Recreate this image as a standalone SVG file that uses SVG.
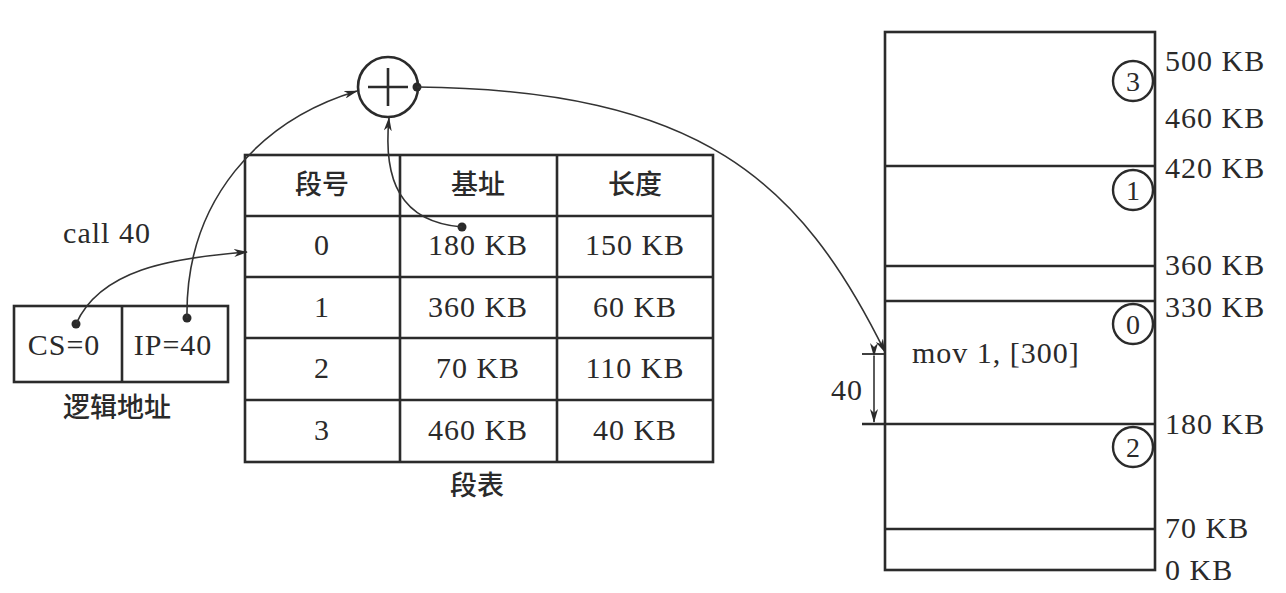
<svg xmlns="http://www.w3.org/2000/svg" width="1286" height="593" viewBox="0 0 1286 593">
<style>
.box{fill:none;stroke:#2b2b2b;stroke-width:2.6}
.ln{fill:none;stroke:#2b2b2b;stroke-width:2.6}
.cv{fill:none;stroke:#333;stroke-width:1.6}
.t{font-family:"Liberation Serif","DejaVu Serif",serif;font-size:30px;letter-spacing:1px;fill:#2a2a2a}
.tm{text-anchor:middle}
.cn{font-family:"Noto Sans CJK SC","Noto Sans",sans-serif;font-size:27px;font-weight:500;fill:#2a2a2a;text-anchor:middle}
.dot{fill:#2a2a2a}
.num{font-family:"Liberation Serif","DejaVu Serif",serif;font-size:28px;fill:#2a2a2a;text-anchor:middle}
</style>
<defs>
<marker id="arr" viewBox="0 0 14 8" refX="13" refY="4" markerWidth="14" markerHeight="8" markerUnits="userSpaceOnUse" orient="auto">
<path d="M0,0 L14,4 L0,8 L4,4 Z" fill="#2a2a2a"/>
</marker>
<marker id="arrs" viewBox="0 0 14 8" refX="1" refY="4" markerWidth="14" markerHeight="8" markerUnits="userSpaceOnUse" orient="auto-start-reverse">
<path d="M0,4 L14,0 L10,4 L14,8 Z" fill="#2a2a2a"/>
</marker>
</defs>
<rect width="1286" height="593" fill="#fff"/>

<g id="logical-address">
<rect class="box" x="14" y="306" width="214" height="76"/>
<line class="ln" x1="122" y1="306" x2="122" y2="382"/>
<text class="t tm" x="64" y="355">CS=0</text>
<text class="t tm" x="173" y="355">IP=40</text>
<text class="t tm" x="107" y="243">call 40</text>
<text class="cn" x="117" y="417">逻辑地址</text>
<circle class="dot" cx="76" cy="324" r="4.5"/>
<circle class="dot" cx="187" cy="318" r="4.5"/>
</g>

<g id="adder">
<circle cx="388" cy="87" r="30" fill="#fff" stroke="#2b2b2b" stroke-width="2.6"/>
<line class="ln" x1="368" y1="87" x2="408" y2="87"/>
<line class="ln" x1="388" y1="68" x2="388" y2="106"/>
<circle class="dot" cx="417" cy="87" r="4.5"/>
</g>

<g id="segment-table">
<rect class="box" x="245" y="155" width="468" height="307"/>
<line class="ln" x1="245" y1="216" x2="713" y2="216"/>
<line class="ln" x1="245" y1="277" x2="713" y2="277"/>
<line class="ln" x1="245" y1="338" x2="713" y2="338"/>
<line class="ln" x1="245" y1="400" x2="713" y2="400"/>
<line class="ln" x1="400" y1="155" x2="400" y2="462"/>
<line class="ln" x1="557" y1="155" x2="557" y2="462"/>
<text class="cn" x="322" y="194">段号</text>
<text class="cn" x="478" y="194">基址</text>
<text class="cn" x="635" y="194">长度</text>
<text class="t tm" x="322" y="255">0</text>
<text class="t tm" x="478" y="255">180 KB</text>
<text class="t tm" x="635" y="255">150 KB</text>
<text class="t tm" x="322" y="317">1</text>
<text class="t tm" x="478" y="317">360 KB</text>
<text class="t tm" x="635" y="317">60 KB</text>
<text class="t tm" x="322" y="378">2</text>
<text class="t tm" x="478" y="378">70 KB</text>
<text class="t tm" x="635" y="378">110 KB</text>
<text class="t tm" x="322" y="440">3</text>
<text class="t tm" x="478" y="440">460 KB</text>
<text class="t tm" x="635" y="440">40 KB</text>
<text class="cn" x="477" y="495">段表</text>
<circle class="dot" cx="462" cy="227" r="4.5"/>
</g>

<g id="memory">
<rect class="box" x="885" y="32" width="270" height="538"/>
<line class="ln" x1="885" y1="166" x2="1155" y2="166"/>
<line class="ln" x1="885" y1="266" x2="1155" y2="266"/>
<line class="ln" x1="885" y1="301" x2="1155" y2="301"/>
<line class="ln" x1="862" y1="424" x2="1155" y2="424"/>
<line class="ln" x1="885" y1="529" x2="1155" y2="529"/>
<line stroke="#2b2b2b" stroke-width="1.8" x1="862" y1="354" x2="885" y2="354"/>
<text class="t" x="912" y="363">mov 1, [300]</text>
<circle cx="1133" cy="81" r="20" fill="#fff" stroke="#2b2b2b" stroke-width="2.4"/>
<text class="num" x="1133" y="91">3</text>
<circle cx="1133" cy="190" r="20" fill="#fff" stroke="#2b2b2b" stroke-width="2.4"/>
<text class="num" x="1133" y="200">1</text>
<circle cx="1133" cy="324" r="20" fill="#fff" stroke="#2b2b2b" stroke-width="2.4"/>
<text class="num" x="1133" y="334">0</text>
<circle cx="1133" cy="447" r="20" fill="#fff" stroke="#2b2b2b" stroke-width="2.4"/>
<text class="num" x="1133" y="457">2</text>
<text class="t" x="1165" y="71">500 KB</text>
<text class="t" x="1165" y="128">460 KB</text>
<text class="t" x="1165" y="178">420 KB</text>
<text class="t" x="1165" y="275">360 KB</text>
<text class="t" x="1165" y="317">330 KB</text>
<text class="t" x="1165" y="434">180 KB</text>
<text class="t" x="1165" y="538">70 KB</text>
<text class="t" x="1165" y="580">0 KB</text>
<text class="t" x="831" y="400">40</text>
</g>

<g id="connectors">
<path class="cv" d="M76,324 C100,270 170,258 247,252" marker-end="url(#arr)"/>
<path class="cv" d="M187,318 C185,200 260,120 357,91" marker-end="url(#arr)"/>
<path class="cv" d="M462,227 C400,222 383,180 389,118" marker-end="url(#arr)"/>
<path class="cv" d="M417,87 C700,90 800,180 885,352" marker-end="url(#arr)"/>
<line class="cv" x1="874" y1="356" x2="874" y2="422" marker-start="url(#arrs)" marker-end="url(#arr)"/>
</g>
</svg>
